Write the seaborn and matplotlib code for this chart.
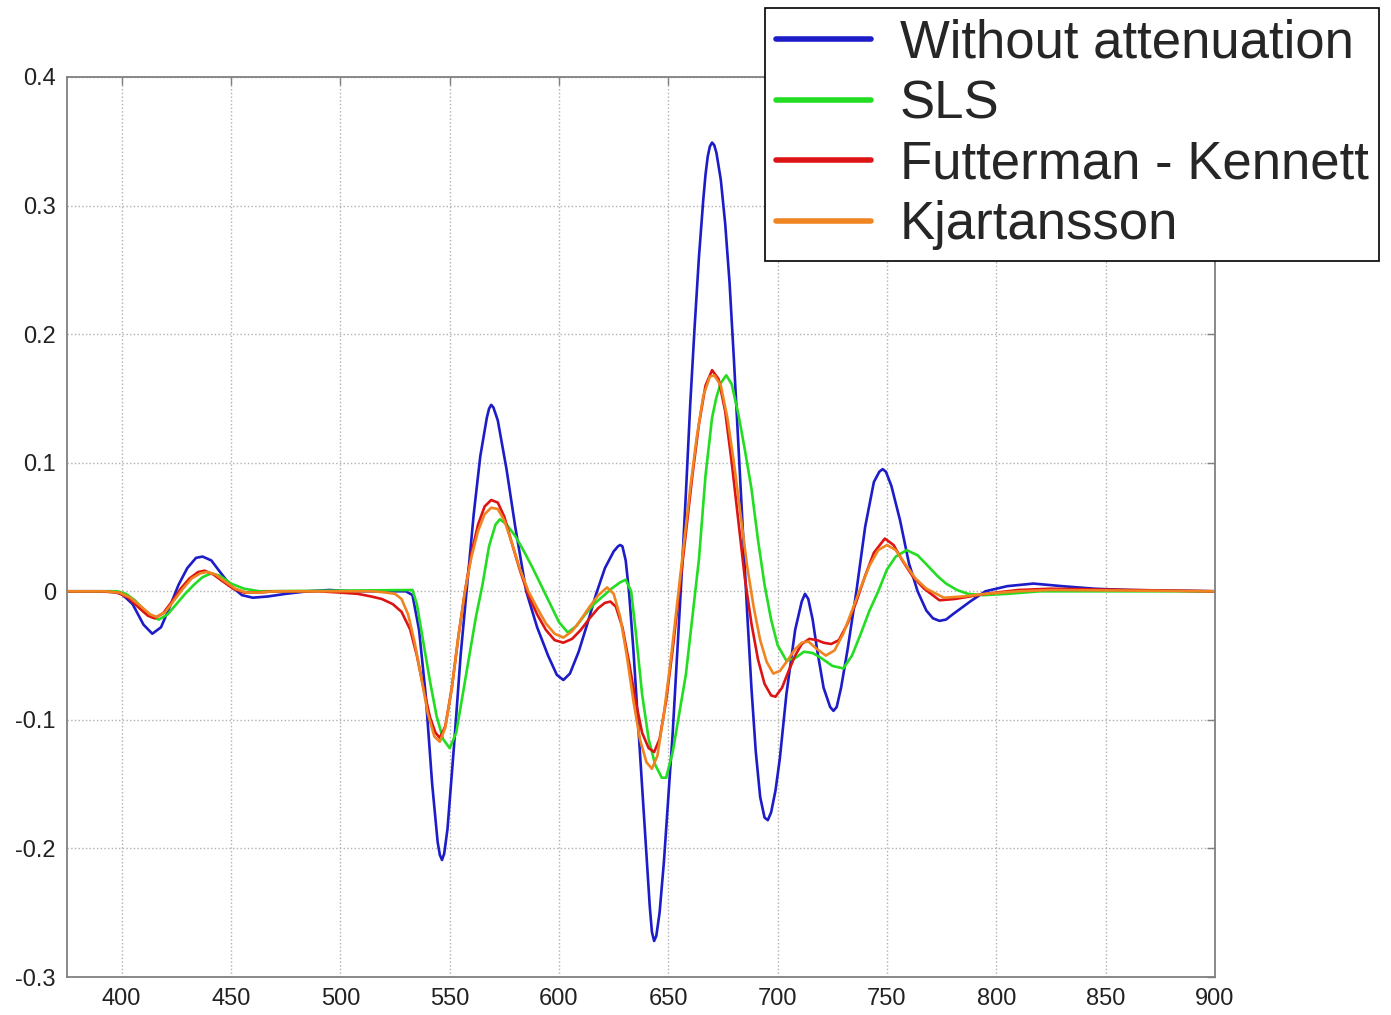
import numpy as np
import pandas as pd
import matplotlib
matplotlib.use("Agg")
import matplotlib.pyplot as plt
import seaborn as sns

# Trace values (time axis, amplitude)
wo_t = [375, 395, 400, 405, 410, 414, 418, 422, 426, 430, 434, 437, 441, 445, 450, 455, 460, 467,
        475, 485, 495, 505, 530, 533, 536, 539, 542, 544.5, 545.5, 546.5, 547.5, 549, 552, 555,
        558, 561, 564, 567, 568, 569, 570, 572, 576, 580, 585, 590, 595, 599, 602, 605, 609, 613,
        617, 621, 625, 627, 628, 629, 630.5, 632, 634, 636, 638, 640, 641.5, 642.5, 643.5, 644.5,
        646, 648, 650, 652, 654, 656, 658, 660, 662, 664, 666, 667, 668, 669, 670, 671, 672, 674,
        676, 678, 680, 682, 684, 686, 688, 690, 692, 694, 695.5, 697, 699, 701, 704, 708, 711,
        712.5, 714, 716, 718, 721, 724, 725.5, 727, 729, 732, 736, 740, 744, 746.5, 748, 749.5,
        752, 756, 760, 764, 768, 771, 774, 777, 780, 788, 795, 805, 817, 830, 845, 860, 900]
wo_amp = [0.0, 0.0, -0.002, -0.010, -0.026, -0.033, -0.028, -0.012, 0.005, 0.018, 0.026, 0.027,
          0.024, 0.015, 0.004, -0.003, -0.005, -0.004, -0.002, 0.0, 0.001, 0.0, 0.0, -0.003, -0.03,
          -0.08, -0.15, -0.195, -0.205, -0.209, -0.204, -0.185, -0.12, -0.05, 0.005, 0.06, 0.105,
          0.135, 0.142, 0.145, 0.143, 0.133, 0.095, 0.05, 0.0, -0.028, -0.05, -0.065, -0.069,
          -0.064, -0.047, -0.025, -0.002, 0.018, 0.031, 0.035, 0.036, 0.035, 0.024, 0.0, -0.045,
          -0.098, -0.15, -0.205, -0.245, -0.265, -0.272, -0.268, -0.25, -0.21, -0.16, -0.11,
          -0.05, 0.01, 0.075, 0.145, 0.205, 0.26, 0.305, 0.324, 0.338, 0.346, 0.349, 0.347,
          0.341, 0.32, 0.286, 0.24, 0.18, 0.115, 0.05, -0.015, -0.075, -0.125, -0.16, -0.176,
          -0.178, -0.172, -0.155, -0.13, -0.08, -0.03, -0.008, -0.002, -0.006, -0.022, -0.045,
          -0.075, -0.09, -0.093, -0.09, -0.075, -0.045, 0.0, 0.05, 0.085, 0.093, 0.095, 0.093,
          0.082, 0.055, 0.022, 0.0, -0.015, -0.021, -0.023, -0.022, -0.018, -0.008, 0.0, 0.004,
          0.006, 0.004, 0.002, 0.001, 0.0]

sls_t = [375, 398, 402, 406, 410, 414, 417, 421, 425, 429, 433, 437, 441, 445, 450, 456, 463,
         533, 535, 538, 541, 544, 547, 550, 553, 556, 559, 562, 565, 568, 571, 573, 576, 580, 584,
         588, 592, 596, 600, 604, 608, 612, 616, 620, 624, 628, 630.5, 633, 635, 638, 641, 644,
         647, 649, 652, 655, 658, 661, 664, 667, 670, 672, 674, 676.5, 679, 682, 685, 688, 691,
         694, 697, 700, 704, 708, 712, 716, 720, 725, 730, 734, 738, 742, 746, 750, 754, 759, 764,
         768, 773, 777, 782, 787, 794, 805, 820, 900]
sls_amp = [0.0, 0.0, -0.002, -0.007, -0.014, -0.020, -0.022, -0.018, -0.010, -0.002, 0.005, 0.011,
           0.014, 0.012, 0.006, 0.002, 0.0, 0.001, -0.01, -0.04, -0.07, -0.097, -0.115, -0.122,
           -0.11, -0.08, -0.05, -0.02, 0.005, 0.035, 0.052, 0.056, 0.052, 0.043, 0.031, 0.018,
           0.004, -0.01, -0.024, -0.032, -0.027, -0.018, -0.010, -0.004, 0.002, 0.007, 0.009, 0.0,
           -0.03, -0.08, -0.115, -0.135, -0.145, -0.145, -0.125, -0.095, -0.065, -0.02, 0.025,
           0.09, 0.135, 0.151, 0.162, 0.168, 0.161, 0.138, 0.11, 0.08, 0.04, 0.005, -0.022, -0.042,
           -0.054, -0.052, -0.047, -0.048, -0.052, -0.058, -0.060, -0.050, -0.033, -0.015, 0.0,
           0.017, 0.027, 0.032, 0.028, 0.021, 0.012, 0.006, 0.001, -0.002, -0.003, -0.002, 0.0, 0.0]

fk_t = [375, 390, 398, 403, 408, 412, 415, 419, 423, 427, 431, 435, 438, 442, 446, 451, 456, 462,
        470, 490, 500, 508, 514, 519, 524, 528, 532, 535, 538, 541, 543.5, 545.5, 548, 551, 554,
        557, 560, 563, 566, 569, 572, 575, 578, 582, 586, 590, 594, 598, 602, 606, 610, 614, 618,
        621, 623.5, 626, 629, 632, 635, 638, 641, 643.5, 646, 649, 652, 655, 658, 661, 664, 667,
        670, 673, 676, 679, 682, 685, 688, 691, 694, 697, 699, 702, 705, 708, 711, 714.5, 718,
        721, 724.5, 728, 732, 736, 740, 744, 749, 753, 757, 762, 767, 774, 781, 788, 795, 810,
        825, 900]
fk_amp = [0.0, 0.0, -0.001, -0.005, -0.013, -0.019, -0.021, -0.017, -0.008, 0.002, 0.010, 0.015,
          0.016, 0.013, 0.008, 0.002, -0.001, -0.001, 0.0, 0.0, -0.001, -0.002, -0.004, -0.006,
          -0.010, -0.016, -0.030, -0.05, -0.075, -0.098, -0.11, -0.114, -0.105, -0.075, -0.035,
          0.0, 0.03, 0.052, 0.066, 0.071, 0.069, 0.058, 0.04, 0.017, -0.003, -0.018, -0.030,
          -0.038, -0.040, -0.037, -0.030, -0.021, -0.013, -0.009, -0.008, -0.012, -0.028, -0.055,
          -0.085, -0.11, -0.122, -0.125, -0.115, -0.085, -0.045, 0.0, 0.045, 0.09, 0.13, 0.16,
          0.172, 0.165, 0.14, 0.10, 0.055, 0.01, -0.025, -0.053, -0.072, -0.081, -0.082, -0.075,
          -0.062, -0.050, -0.041, -0.037, -0.038, -0.040, -0.041, -0.038, -0.025, -0.008, 0.012,
          0.030, 0.041, 0.036, 0.024, 0.011, 0.002, -0.007, -0.006, -0.004, -0.002, 0.001, 0.002,
          0.0]

kj_t = [375, 392, 399, 404, 409, 413, 416, 420, 424, 428, 432, 436, 439, 443, 447, 452, 457, 463,
        470, 515, 521, 525, 528, 531, 534, 537, 540, 543, 545.5, 548, 551, 554, 557, 560, 563,
        566, 569, 572, 575, 578, 582, 586, 590, 594, 598, 602, 606, 610, 614, 618, 622, 625, 628,
        631, 634, 637, 640, 642.5, 645, 648, 651, 654, 657, 660, 663, 666, 669, 671, 674, 677,
        680, 683, 686, 689, 692, 695, 698, 701, 704, 708, 711, 714, 718, 722, 726, 730, 734, 738,
        742, 746, 750, 754, 758, 763, 768, 776, 785, 795, 810, 825, 900]
kj_amp = [0.0, 0.0, -0.001, -0.005, -0.012, -0.018, -0.020, -0.016, -0.007, 0.002, 0.010, 0.014,
          0.015, 0.013, 0.008, 0.002, -0.001, -0.001, 0.0, 0.0, -0.001, -0.002, -0.006, -0.018,
          -0.04, -0.067, -0.095, -0.113, -0.117, -0.106, -0.075, -0.035, 0.0, 0.027, 0.047, 0.06,
          0.065, 0.064, 0.055, 0.04, 0.018, 0.0, -0.013, -0.025, -0.033, -0.036, -0.031, -0.022,
          -0.012, -0.003, 0.003, -0.002, -0.02, -0.05, -0.085, -0.115, -0.133, -0.138, -0.128,
          -0.095, -0.055, -0.01, 0.035, 0.08, 0.12, 0.152, 0.167, 0.168, 0.16, 0.135, 0.10, 0.06,
          0.02, -0.012, -0.038, -0.055, -0.064, -0.062, -0.055, -0.045, -0.040, -0.039, -0.045,
          -0.050, -0.046, -0.033, -0.015, 0.003, 0.020, 0.032, 0.036, 0.032, 0.022, 0.010, 0.002,
          -0.005, -0.004, -0.002, 0.0, 0.001, 0.0]

models = ["Without attenuation", "SLS", "Futterman - Kennett", "Kjartansson"]
colors = ["#1c1cc8", "#22dd22", "#dd1414", "#f08420"]

x_ticks = [400, 450, 500, 550, 600, 650, 700, 750, 800, 850, 900]
y_ticks = [-0.3, -0.2, -0.1, 0, 0.1, 0.2, 0.3, 0.4]
y_labels = ["-0.3", "-0.2", "-0.1", "0", "0.1", "0.2", "0.3", "0.4"]

frames = []
for name, t, amp in zip(models, [wo_t, sls_t, fk_t, kj_t], [wo_amp, sls_amp, fk_amp, kj_amp]):
    frames.append(pd.DataFrame({"t": t, "amp": amp, "model": name}))
df = pd.concat(frames, ignore_index=True)

sns.set_style("whitegrid")
plt.rcParams["font.family"] = ["Liberation Sans", "DejaVu Sans"]

fig = plt.figure(figsize=(13.91, 10.15), dpi=100)
ax = fig.add_axes([67 / 1391, 38 / 1015, 1148 / 1391, 900 / 1015])

sns.lineplot(data=df, x="t", y="amp", hue="model", hue_order=models,
             palette=dict(zip(models, colors)), sort=False, estimator=None,
             linewidth=1.9, ax=ax)

ax.set_xlim(375, 900)
ax.set_ylim(-0.3, 0.4)
ax.set_xticks(x_ticks)
ax.set_yticks(y_ticks)
ax.set_yticklabels(y_labels)
ax.set_xlabel("")
ax.set_ylabel("")
ax.grid(True, linestyle=":", color="#b0b0b0", linewidth=1.0)
ax.tick_params(direction="in", top=True, right=True, length=6, width=1,
               color="#808080", labelsize=17, labelcolor="#222222", pad=8)
for s in ax.spines.values():
    s.set_color("#808080")
    s.set_linewidth(1.3)

leg = ax.legend(loc="upper left", bbox_to_anchor=(765 / 1391, 1 - 8 / 1015),
                bbox_transform=fig.transFigure, fontsize=38, frameon=True,
                fancybox=False, framealpha=1, edgecolor="black",
                handlelength=1.8, handletextpad=0.55, labelspacing=0.2,
                borderpad=0.2, borderaxespad=0)
leg.get_frame().set_linewidth(1.2)
for line in leg.get_lines():
    line.set_linewidth(4)

fig.savefig("out.png", dpi=100)
